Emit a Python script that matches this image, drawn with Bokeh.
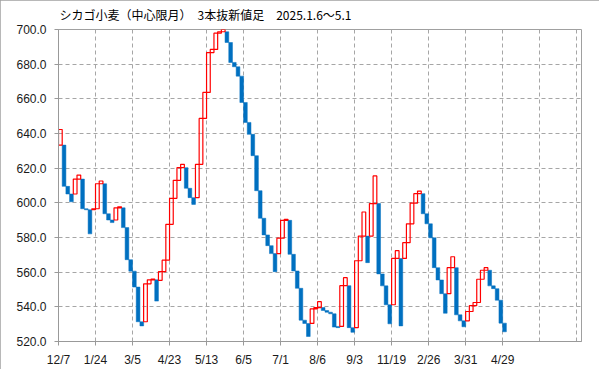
from bokeh.plotting import figure
from bokeh.models import Range1d, FixedTicker, NumeralTickFormatter, ColumnDataSource
from bokeh.embed import file_html
from bokeh.resources import INLINE

# --- data: each brick of the 3-line-break chart (open -> close) ---
brick_open = [
    633.3, 633.3, 609.5, 605.1, 605.1, 613.7, 613.7, 596.6, 596.0, 596.0,
    596.6, 611.0, 611.0, 593.7, 590.1, 590.1, 597.1, 597.1, 585.7, 567.2,
    560.6, 551.4, 531.4, 531.4, 553.3, 555.6, 555.6, 555.3, 560.3, 566.9,
    587.6, 602.6, 613.0, 620.3, 620.3, 608.4, 603.0, 603.0, 622.2, 648.7,
    663.7, 686.7, 688.5, 697.9, 698.7, 698.7, 692.5, 681.0, 678.5, 673.1,
    657.9, 646.4, 639.5, 627.2, 607.0, 591.1, 581.5, 575.3, 570.7, 570.7,
    579.6, 589.9, 589.9, 570.3, 560.7, 550.7, 532.3, 530.4, 530.4, 538.8,
    539.6, 539.6, 537.9, 536.9, 536.0, 528.7, 528.7, 552.2, 552.2, 528.0,
    528.0, 566.6, 580.8, 580.8, 580.8, 599.6, 599.6, 559.0, 552.1, 541.2,
    541.2, 567.9, 567.9, 567.9, 577.0, 587.9, 599.8, 605.3, 605.3, 593.7,
    587.9, 579.8, 562.6, 555.5, 547.6, 547.6, 562.6, 562.6, 535.4, 531.9,
    531.9, 537.3, 540.7, 542.5, 555.9, 561.1, 561.1, 552.1, 550.5, 543.8,
    530.6,
]
brick_close = [
    642.3, 609.5, 605.1, 600.6, 613.7, 616.0, 596.6, 596.0, 582.1, 596.6,
    611.0, 612.6, 593.7, 590.1, 588.6, 597.1, 597.7, 585.7, 567.2, 560.6,
    551.4, 531.4, 529.0, 553.3, 555.6, 556.0, 543.3, 560.3, 566.9, 587.6,
    602.6, 613.0, 620.3, 622.2, 608.4, 603.0, 599.1, 622.2, 648.7, 663.7,
    686.7, 688.5, 697.9, 698.7, 700.0, 692.5, 681.0, 678.5, 673.1, 657.9,
    646.4, 639.5, 627.2, 607.0, 591.1, 581.5, 575.3, 570.7, 560.3, 579.6,
    589.9, 590.5, 570.3, 560.7, 550.7, 532.3, 530.4, 522.9, 538.8, 539.6,
    543.0, 537.9, 536.9, 536.0, 528.3, 528.0, 552.2, 556.8, 528.0, 525.3,
    566.6, 580.8, 594.7, 565.5, 599.6, 615.5, 559.0, 552.1, 541.2, 530.2,
    567.9, 572.4, 529.0, 577.0, 587.9, 599.8, 605.3, 606.8, 593.7, 587.9,
    579.8, 562.6, 555.5, 547.6, 536.3, 562.6, 568.9, 535.4, 531.9, 528.5,
    537.3, 540.7, 542.5, 555.9, 561.1, 562.6, 552.1, 550.5, 543.8, 530.6,
    525.6,
]
tick_labels = ["12/7", "1/24", "3/5", "4/23", "5/13", "6/5", "7/1", "8/6",
               "9/3", "11/19", "2/26", "3/31", "4/29"]
y_ticks = [520, 540, 560, 580, 600, 620, 640, 660, 680, 700]
title_text = "シカゴ小麦（中心限月）\u30003本抜新値足\u30002025.1.6～5.1"

BLUE = "#0070C0"
RED = "#FF0000"
GRID = "#a6a6a6"

up = dict(left=[], right=[], bottom=[], top=[])
dn = dict(left=[], right=[], bottom=[], top=[])
for i, (o, c) in enumerate(zip(brick_open, brick_close)):
    d = up if c > o else dn
    d["left"].append(i)
    d["right"].append(i + 1)
    d["bottom"].append(min(o, c))
    d["top"].append(max(o, c))

p = figure(width=599, height=369, output_backend="svg", toolbar_location=None,
           x_range=Range1d(0, 141.3), y_range=Range1d(520, 700),
           min_border_left=58, min_border_right=18, min_border_top=29,
           min_border_bottom=27)
p.styles = {"outline": "1px solid #a0a0a0", "outline-offset": "-1px"}

p.title.text = title_text
p.title.text_font = "Noto Sans CJK JP"
p.title.text_font_size = "12px"
p.title.text_font_style = "normal"
p.title.text_color = "#000000"
p.title.offset = 1
p.title.standoff = 10
p.title.vertical_align = "top"

p.quad(source=ColumnDataSource(dn), left="left", right="right", bottom="bottom", top="top",
       fill_color=BLUE, line_color=BLUE, line_width=0.5)
p.quad(source=ColumnDataSource(up), left="left", right="right", bottom="bottom", top="top",
       fill_alpha=0, line_color=RED, line_width=1.2)

# axes
p.xaxis.ticker = FixedTicker(ticks=[10 * k for k in range(len(tick_labels))])
p.xaxis.major_label_overrides = {10 * k: lab for k, lab in enumerate(tick_labels)}
p.xgrid.ticker = FixedTicker(ticks=[10 * k for k in range(15)])
p.yaxis.ticker = FixedTicker(ticks=y_ticks)
p.yaxis.formatter = NumeralTickFormatter(format="0.0")

for ax in (p.xaxis[0], p.yaxis[0]):
    ax.axis_line_color = "#999999"
    ax.major_tick_line_color = "#999999"
    ax.minor_tick_line_color = None
    ax.major_tick_in = 0
    ax.major_tick_out = 4
    ax.major_label_text_font = "Liberation Sans"
    ax.major_label_text_font_size = "12px"
    ax.major_label_text_color = "#1a1a1a"
p.xaxis.major_label_standoff = 7
p.yaxis.major_label_standoff = 8

for g in (p.xgrid[0], p.ygrid[0]):
    g.grid_line_color = GRID
    g.grid_line_dash = "4 3"
    g.grid_line_width = 1

p.outline_line_color = "#a0a0a0"
p.background_fill_color = "white"
p.border_fill_color = "white"

open("out.html", "w").write(file_html(p, INLINE))
